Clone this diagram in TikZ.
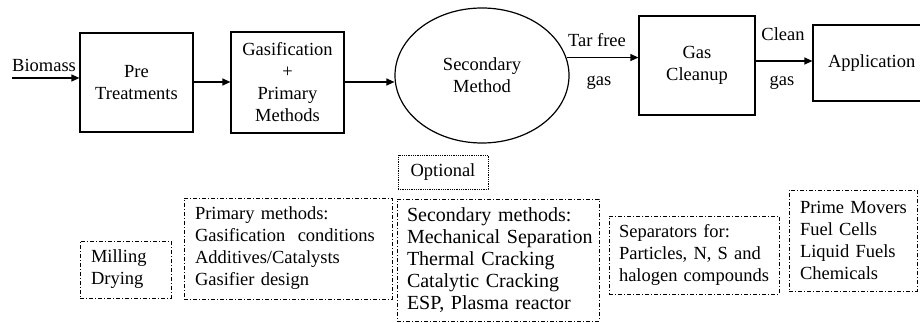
\documentclass[tikz,border=0pt]{standalone}
\usepackage{fontspec}
\setmainfont{Liberation Serif}
\usetikzlibrary{shapes.geometric,arrows.meta}
% never break words inside the note boxes
\hyphenpenalty=10000
\exhyphenpenalty=10000
\begin{document}
\begin{tikzpicture}[x=1pt,y=-1pt,
  every node/.style={font=\fontsize{18.5}{22}\selectfont, inner sep=0pt},
  stagebox/.style={draw, line width=1.2pt, align=center},
  notebox/.style={draw, line width=0.9pt, align=left, inner xsep=11pt,
    dash pattern=on 4pt off 2pt on 1pt off 2pt},
  optbox/.style={draw, line width=0.9pt, align=center,
    dash pattern=on 1pt off 0.8pt},
  flow/.style={line width=1.2pt, -{Triangle[length=8pt,width=7pt]}}]
\useasboundingbox (0,0) rectangle (920,323);
\clip (0,0) rectangle (920,323);

% main process chain
\node[stagebox, minimum width=113pt, minimum height=99pt] (pre) at (136.5,82.5) {Pre\\Treatments};
\node[stagebox, minimum width=113pt, minimum height=101pt] (gasif) at (287.5,82.5) {Gasification\\+\\Primary\\Methods};
\node[ellipse, draw, line width=1.2pt, minimum width=174pt, minimum height=135pt, align=center] (sec) at (482,75.5) {Secondary\\Method};
\node[stagebox, minimum width=116pt, minimum height=99pt] (clean) at (697,65.5) {Gas\\Cleanup};
\node[stagebox, minimum width=140pt, minimum height=76pt, text width=110pt, align=left] (app) at (883,63) {Application};

% feed and connectors
\coordinate (feed) at (12,78);
\node[anchor=south west] (bio) at (12,72) {Biomass};
\draw[flow] (feed) -- (feed -| pre.west);
\draw[flow] (pre.east |- 0,82) -- (gasif.west |- 0,82);
\draw[flow] (gasif.east |- 0,82) -- (sec.west |- 0,82);
\draw[flow] (sec.12) -- (sec.12 -| clean.west);
\draw[flow] (clean.east |- 0,61) -- (app.west |- 0,61);

% stream labels
\node (tarfree) at (597,40) {Tar free};
\node (gas1) at (599,83) {gas};
\node (cleanlbl) at (783,34) {Clean};
\node (gas2) at (782,83) {gas};

% notes below each stage (tied spaces keep every line whole)
\node[optbox, minimum width=90pt, minimum height=34pt] (opt) at (443,172) {Optional};
\node[notebox, minimum height=57pt, text width=69pt] (mill) at (125.5,269.5) {Milling\\Drying};
\node[notebox, minimum height=101pt, text width=186pt] (prim) at (288,248.5) {Primary~methods:\\Gasification~~conditions\\Additives/Catalysts\\Gasifier~design};
\node[notebox, minimum height=122pt, text width=182pt, inner xsep=10pt,
      font=\fontsize{20}{22}\selectfont] (secm) at (498,260) {Secondary~methods:\\Mechanical~Separation\\Thermal~Cracking\\Catalytic~Cracking\\ESP,~Plasma~reactor};
\node[notebox, minimum height=78pt, text width=150pt, inner xsep=10pt] (sep) at (694,255) {Separators~for:\\Particles,~N,~S~and\\halogen~compounds};
\node[notebox, minimum height=101pt, text width=106pt] (uses) at (853,240.5) {Prime~Movers\\Fuel~Cells\\Liquid~Fuels\\Chemicals};
\end{tikzpicture}
\end{document}
